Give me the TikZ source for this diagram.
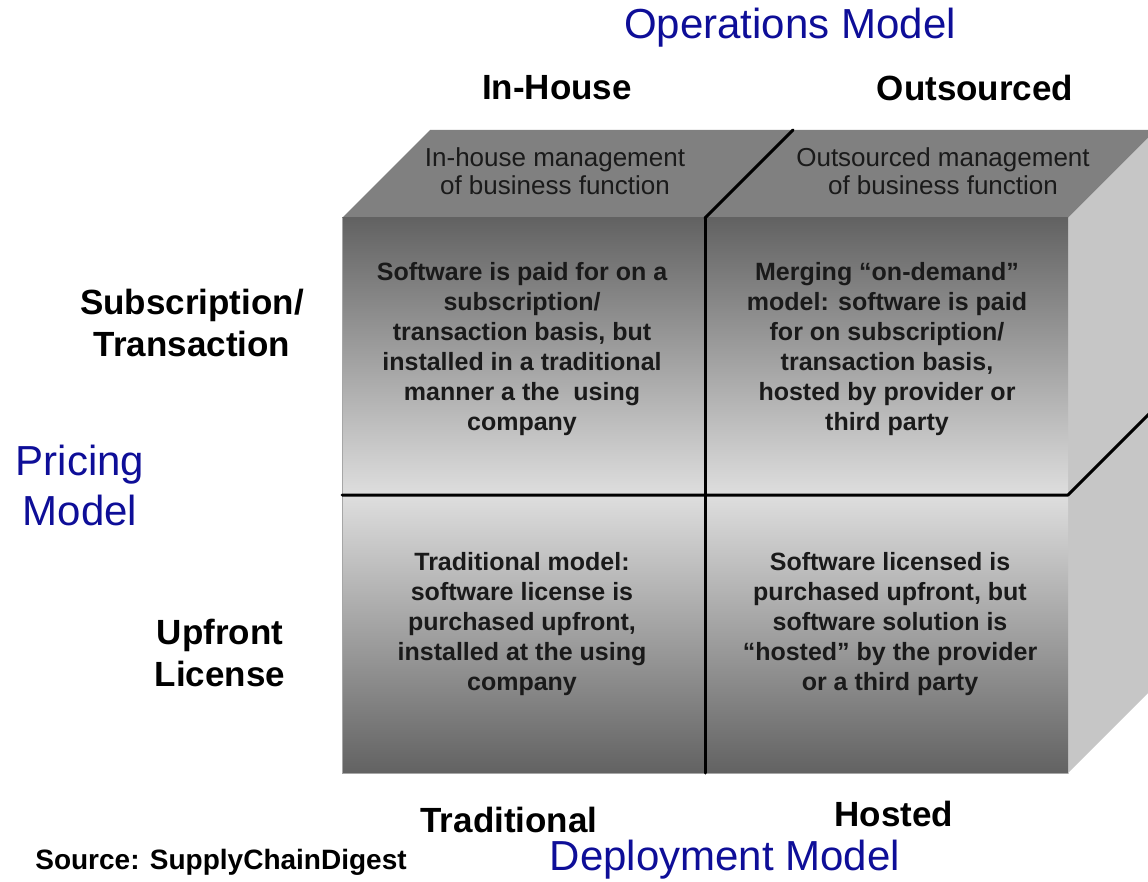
\documentclass[tikz,border=0pt]{standalone}
\usepackage{fontspec}
\setmainfont{Liberation Sans}
\usetikzlibrary{calc}

\definecolor{modelblue}{RGB}{14,14,152}
\definecolor{celltext}{RGB}{26,26,26}
\definecolor{lidgray}{RGB}{128,128,128}
\definecolor{sidegray}{RGB}{198,198,198}
\definecolor{frontdark}{RGB}{98,98,98}
\definecolor{frontlight}{RGB}{222,222,222}

\begin{document}
\begin{tikzpicture}[line cap=round,line join=round,x=1pt,y=-1pt,
  axis/.style={text=modelblue,font=\fontsize{42}{50}\selectfont},
  head/.style={font=\bfseries\fontsize{35}{42}\selectfont},
  cell/.style={align=center,text=celltext,font=\bfseries\fontsize{25}{30}\selectfont},
  lid/.style={align=center,text=celltext,font=\fontsize{26}{28}\selectfont},
  divider/.style={line width=3pt,black}]
\clip (0,0) rectangle (1148,882);

% front face corners
\coordinate (A) at (342,218);
\coordinate (B) at (1068,218);
\coordinate (C) at (1068,773);
\coordinate (D) at (342,773);
\coordinate (M) at (342,495);
\coordinate (N) at (1068,495);
\coordinate (P) at (705,218);
\coordinate (Q) at (705,773);
% depth of the box
\coordinate (d) at (88,-88);

\fill[lidgray] (A) -- (B) -- ($(B)+(d)$) -- ($(A)+(d)$) -- cycle;
\fill[sidegray] (B) -- ($(B)+(d)$) -- ($(C)+(d)$) -- (C) -- cycle;

\shade[top color=frontdark, bottom color=frontlight] (A) rectangle (N);
\shade[top color=frontlight, bottom color=frontdark] (M) rectangle (C);
\draw[gray!70, line width=1pt] (A) -- (D) -- (C);

\draw[divider] (P) -- (Q);
\draw[divider] (P) -- ($(P)+(d)$);
\draw[divider] (M) -- (N) -- ($(N)+(d)$);

\node[lid] (lidin) at (555,171) {In-house management\\of business function};
\node[lid] (lidout) at (943,171) {Outsourced management\\of business function};

\node[cell] (subin) at (522,349) {Software is paid for on a\\subscription/\\transaction basis, but\\installed in a traditional\\manner a the\ \ using\\company};
\node[cell] (subout) at (887,349) {Merging “on-demand”\\model: software is paid\\for on subscription/\\transaction basis,\\hosted by provider or\\third party};
\node[cell] (upin) at (522,624) {Traditional model:\\software license is\\purchased upfront,\\installed at the using\\company};
\node[cell] (upout) at (890,624) {Software licensed is\\purchased upfront, but\\software solution is\\“hosted” by the provider\\or a third party};

\node[axis] (ops) at (790,28) {Operations Model};
\node[head] (inhouse) at (557,88) {In-House};
\node[head] (outsrc) at (975,88) {Outsourced};
\node[head,align=center] (subs) at (192,323) {Subscription/\\Transaction};
\node[axis,align=center] (pricing) at (80,485) {Pricing\\Model};
\node[head,align=center] (upfront) at (220,653) {Upfront\\License};
\node[head] (trad) at (509,820) {Traditional};
\node[head] (hosted) at (894,814) {Hosted};
\node[axis] (deploy) at (725,860) {Deployment Model};
\node[font=\bfseries\fontsize{28}{32}\selectfont] (source) at (221,862) {Source: SupplyChainDigest};

\end{tikzpicture}
\end{document}
